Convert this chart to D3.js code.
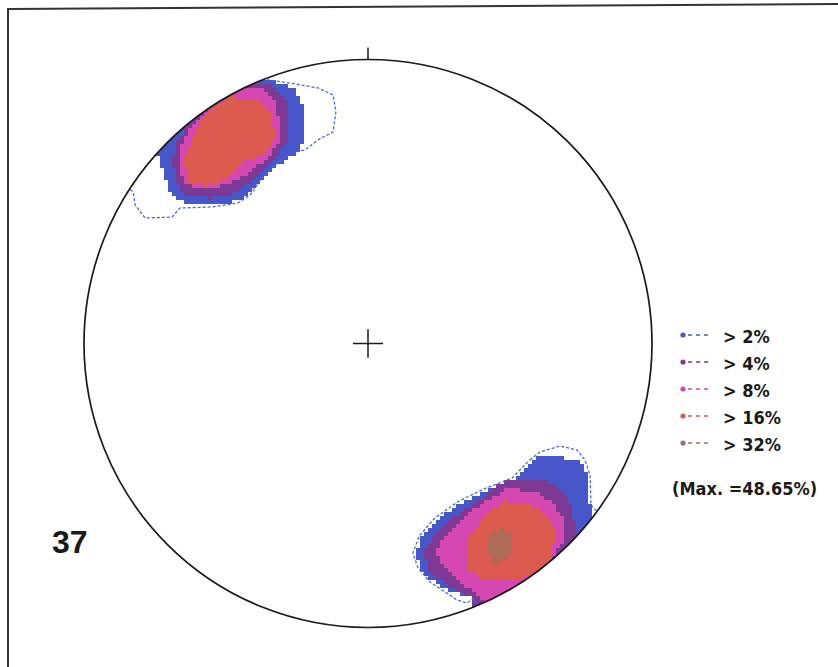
<!DOCTYPE html>
<html>
<head>
<meta charset="utf-8">
<script src="https://cdn.jsdelivr.net/npm/d3@7"></script>
<style>
  body { margin: 0; background: #fff; }
  svg { display: block; }
</style>
</head>
<body>
<div id="chart"></div>
<script>
// contour levels and their labels
const levelLabels = ["> 2%", "> 4%", "> 8%", "> 16%", "> 32%"];
const maxLabel = "(Max. =48.65%)";
const netLabel = "37";

// contour polygons in net units (radius = 100, north up), one array per level
const nwContours = [
  [[-38.7, 92.8], [-31, 92.1], [-26.4, 90], [-23.9, 86.8], [-22.5, 82.2], [-22.5, 71.7], [-24.6, 67.4], [-29.2, 64.6], [-35.2, 60.4], [-39.8, 54.8], [-45.1, 50.5], [-53.9, 49.1], [-64.4, 49.5], [-69, 51.9], [-70.4, 55.8], [-72.2, 61.1], [-74.3, 67.4], [-72.2, 70.9], [-66.9, 74.5], [-60.9, 81.2], [-53.9, 86.8], [-46.8, 90.7]],
  [[-43.3, 91.7], [-36.3, 92.1], [-29.6, 87.5], [-27.5, 81.5], [-28.2, 71.7], [-33.1, 64.6], [-41.5, 56.9], [-47.9, 52.6], [-55.6, 51.2], [-64.4, 52.6], [-67.6, 56.9], [-68.7, 64.6], [-67.6, 70.6], [-62.7, 78], [-55.6, 84.7], [-49.3, 89.3]],
  [[-43.3, 90.7], [-37.3, 90], [-33.1, 85.7], [-31.3, 79.4], [-31.7, 69.9], [-37.3, 63.9], [-45.1, 58.3], [-53.9, 54.8], [-63.4, 55.8], [-66.5, 60.4], [-66.5, 68.1], [-62.7, 75.9], [-54.9, 84], [-48.6, 88.2]],
  [[-48.6, 86.8], [-38.7, 85.7], [-34.2, 81.5], [-32.4, 72.4], [-35.9, 67.1], [-45.1, 63.2], [-50.7, 57.6], [-56.7, 55.5], [-62.7, 56.9], [-64.8, 63.9], [-62, 70.6], [-60.2, 76.2], [-55.6, 82.2]]
];

const seContours = [
  [[58.1, -40.3], [64.1, -39.6], [74.6, -40.7], [76.8, -45.2], [77.8, -55.1], [81.7, -69.2], [60.6, -90.3], [43, -95.6], [38.4, -90.3], [29.6, -87.1], [22.9, -83.6], [18.3, -79], [16.9, -73.8], [19, -68.1], [24.3, -62.1], [32.4, -56.2], [41.9, -51.6], [51.1, -48.1], [55.3, -43.8]],
  [[50, -47.4], [61.6, -47.7], [68, -51.2], [71.8, -57.6], [72.9, -65], [78.2, -70.9], [57, -90.3], [46.5, -94.5], [37.7, -93.8], [35.9, -89.3], [28.9, -85.4], [21.8, -80.5], [19.4, -73.8], [22.9, -68.1], [29.9, -61.1], [39.4, -55.1], [44.7, -50.5]],
  [[48.9, -51.2], [58.1, -51.6], [64.1, -55.1], [68.7, -61.1], [68.3, -70.2], [63.4, -78.3], [53.5, -85], [47.2, -89.6], [42.3, -92.4], [39.4, -89.6], [35.9, -86.1], [31.3, -83.3], [25.4, -77.3], [24.3, -72.7], [27.8, -66.7], [34.9, -59.7], [41.9, -55.1]],
  [[48.6, -55.6], [58.8, -57.2], [63.4, -61.1], [66.5, -67.4], [64.1, -76.2], [57, -82.2], [47.5, -83.3], [39.4, -82.6], [34.9, -78.7], [34.9, -69.2], [39.4, -63.2], [44.4, -58.2]],
  [[43, -68.1], [46.5, -65], [50, -66.4], [51.1, -71.7], [48.9, -76.2], [44, -77.3], [41.9, -72.7]]
];

// dashed outer contour lines
const nwOutline = [[-37.3, 93.1], [-27.5, 91.7], [-17.6, 90], [-12.3, 87.5], [-11.3, 81.5], [-12.3, 74.5], [-17.6, 71.7], [-22.2, 68.1], [-27.5, 67.1], [-32.7, 62.9], [-37.3, 58.3], [-41.5, 52.3], [-45.8, 49.5], [-54.6, 48.1], [-66.2, 47.7], [-69, 44.5], [-78.5, 44.2], [-82, 48.8], [-82.7, 53.3], [-87.3, 57.6], [-59.2, 99.8], [-37.3, 99.8]];
const seOutline = [[57, -41], [60.6, -38.2], [67.6, -36.1], [73.6, -37.5], [76.4, -41], [78.2, -46.3], [78.5, -56.9], [87, -65.7], [53.5, -104.4], [38.7, -94.5], [37.3, -89.6], [34.9, -91.4], [31.3, -90.3], [27.8, -87.9], [21.8, -84], [17.6, -79], [15.8, -73.8], [18, -67.8], [23.6, -61.4], [32, -55.5], [41.5, -50.9], [50.7, -47.4], [54.9, -43.1]];

const width = 838;
const height = 667;
const cx = 368, cy = 343.5, r = 284;
const levelColors = ["#4756c8", "#7c3a95", "#d647b2", "#dc5a4e", "#b06a58"];

const x = d3.scaleLinear().domain([-100, 100]).range([cx - r, cx + r]);
const y = d3.scaleLinear().domain([-100, 100]).range([cy + r, cy - r]);

const svg = d3.select("#chart")
  .append("svg")
  .attr("width", width)
  .attr("height", height);

svg.append("clipPath")
  .attr("id", "net-clip")
  .append("circle")
  .attr("cx", cx)
  .attr("cy", cy)
  .attr("r", r);

// frame
svg.append("line")
  .attr("x1", 7).attr("y1", 9).attr("x2", width).attr("y2", 4)
  .attr("stroke", "#333").attr("stroke-width", 2);
svg.append("line")
  .attr("x1", 8).attr("y1", 8).attr("x2", 8).attr("y2", height)
  .attr("stroke", "#333").attr("stroke-width", 2);

// rasterise the contour polygons into small cells, like the original plot
const toPx = (poly) => poly.map(([u, v]) => [x(u), y(v)]);
const clusters = [nwContours, seContours].map((c) => c.map(toPx));
const cell = 4;
const cells = [];
for (let px = x(-100); px < x(100); px += cell) {
  for (let py = y(100); py < y(-100); py += cell) {
    const c = [px + cell / 2, py + cell / 2];
    let lvl = -1;
    clusters.forEach((cl) => {
      cl.forEach((poly, i) => {
        if (i > lvl && d3.polygonContains(poly, c)) lvl = i;
      });
    });
    if (lvl >= 0) cells.push({ px, py, lvl });
  }
}

const net = svg.append("g").attr("clip-path", "url(#net-clip)");

net.append("g")
  .attr("shape-rendering", "crispEdges")
  .selectAll("rect")
  .data(cells)
  .enter()
  .append("rect")
  .attr("x", (d) => d.px)
  .attr("y", (d) => d.py)
  .attr("width", cell)
  .attr("height", cell)
  .attr("fill", (d) => levelColors[d.lvl]);

const line = d3.line().curve(d3.curveLinearClosed);
net.selectAll("path.outline")
  .data([nwOutline, seOutline].map(toPx))
  .enter()
  .append("path")
  .attr("class", "outline")
  .attr("d", line)
  .attr("fill", "none")
  .attr("stroke", "#4a66dc")
  .attr("stroke-width", 1.3)
  .attr("stroke-dasharray", "3,2");

// primitive circle, north tick and centre cross
svg.append("circle")
  .attr("cx", cx).attr("cy", cy).attr("r", r)
  .attr("fill", "none")
  .attr("stroke", "#1a1a1a")
  .attr("stroke-width", 1.7);

svg.append("line")
  .attr("x1", cx).attr("x2", cx)
  .attr("y1", y(100) - 12).attr("y2", y(100))
  .attr("stroke", "#1a1a1a").attr("stroke-width", 1.5);

svg.append("line")
  .attr("x1", x(-5.3)).attr("x2", x(5.3))
  .attr("y1", y(0)).attr("y2", y(0))
  .attr("stroke", "#1a1a1a").attr("stroke-width", 1.5);
svg.append("line")
  .attr("x1", x(0)).attr("x2", x(0))
  .attr("y1", y(5)).attr("y2", y(-5))
  .attr("stroke", "#1a1a1a").attr("stroke-width", 1.5);

// legend
const legendFont = "'Liberation Sans Narrow', 'DejaVu Sans Condensed', sans-serif";
const legend = svg.append("g").attr("transform", "translate(683, 343)");
const rows = legend.selectAll("g")
  .data(levelLabels)
  .enter()
  .append("g")
  .attr("transform", (d, i) => `translate(0, ${i * 27})`);

rows.append("circle")
  .attr("cx", 0).attr("cy", -8).attr("r", 2.6)
  .attr("fill", (d, i) => levelColors[i]);
rows.append("line")
  .attr("x1", 5).attr("x2", 28)
  .attr("y1", -8).attr("y2", -8)
  .attr("stroke", (d, i) => levelColors[i])
  .attr("stroke-width", 1.5)
  .attr("stroke-dasharray", "4,4");
rows.append("text")
  .attr("x", 40)
  .attr("y", 0)
  .attr("font-family", legendFont)
  .attr("font-weight", "bold")
  .attr("font-size", 18)
  .attr("fill", "#1a1a1a")
  .text((d) => d);

legend.append("text")
  .attr("x", -11)
  .attr("y", 152)
  .attr("font-family", legendFont)
  .attr("font-weight", "bold")
  .attr("font-size", 18)
  .attr("fill", "#1a1a1a")
  .text(maxLabel);

svg.append("text")
  .attr("x", 52)
  .attr("y", 553)
  .attr("font-family", "'Liberation Sans', Arial, sans-serif")
  .attr("font-weight", "bold")
  .attr("font-size", 32)
  .attr("fill", "#1a1a1a")
  .text(netLabel);
</script>
</body>
</html>
